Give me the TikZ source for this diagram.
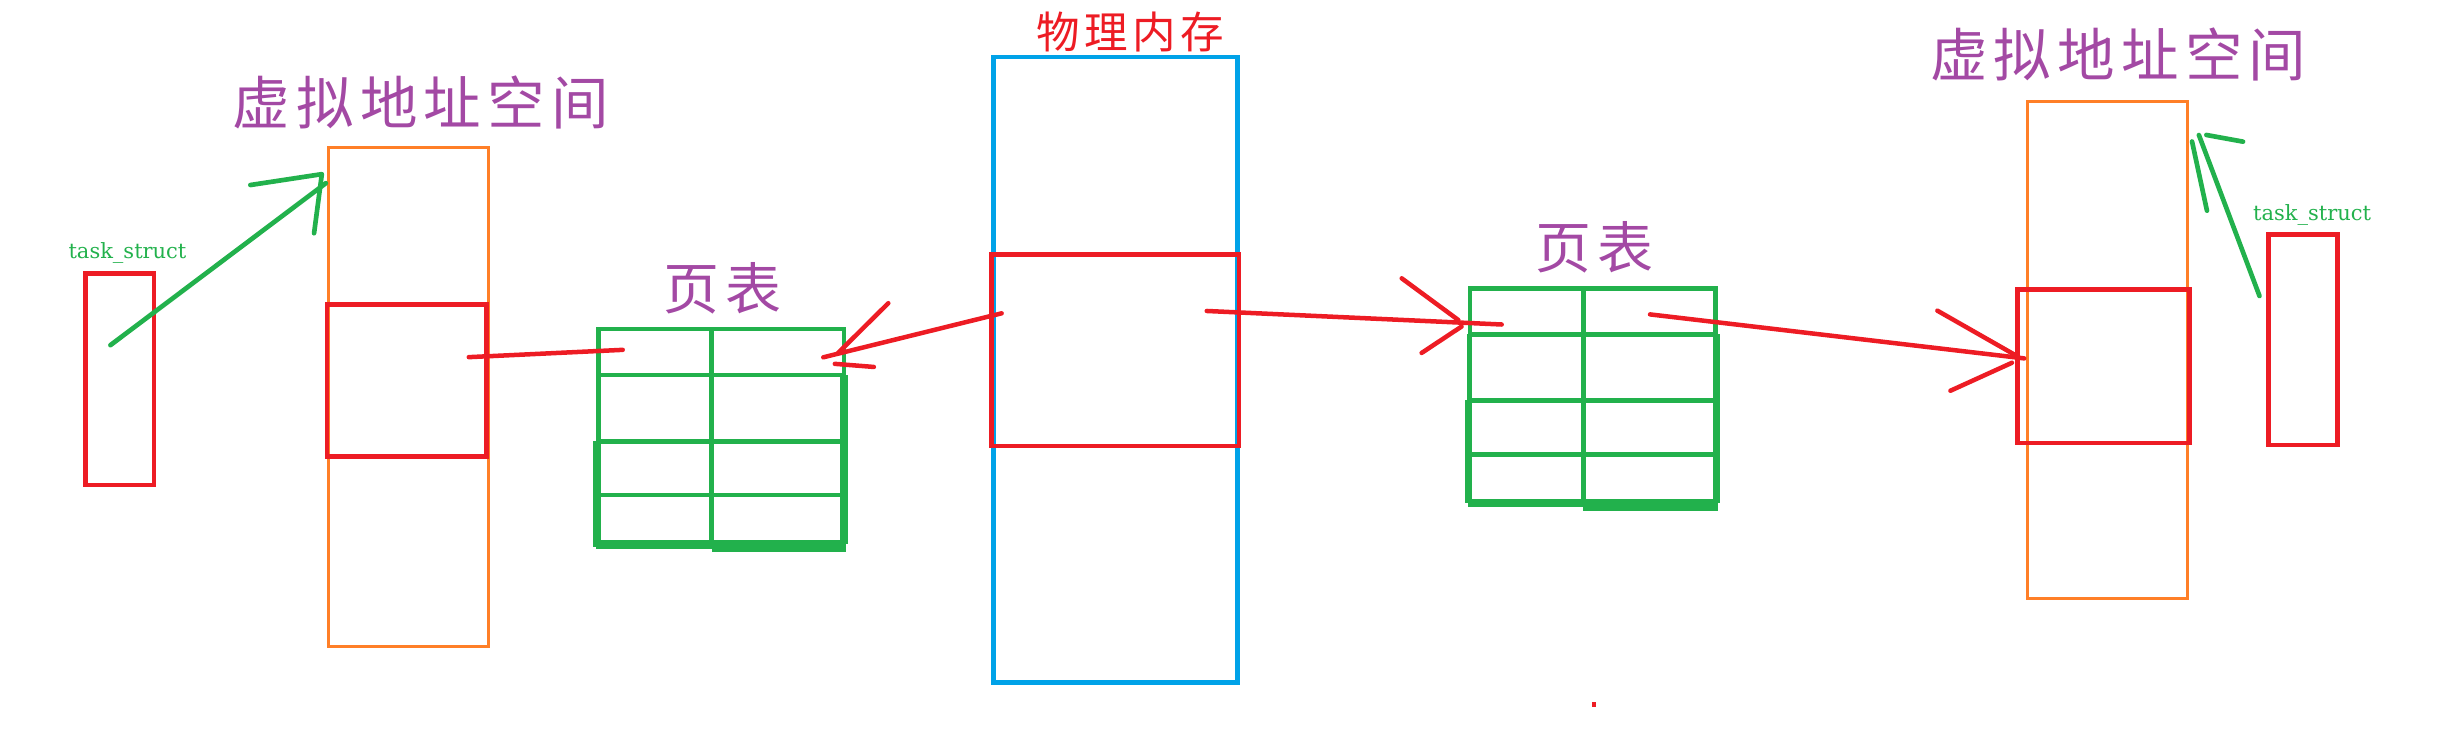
\documentclass[tikz,border=0pt]{standalone}
\usepackage{fontspec}
\newfontfamily\cjk{Noto Sans CJK SC}
\newfontfamily\tsfont{DejaVu Serif}
\usetikzlibrary{calc}
\definecolor{pred}{HTML}{ED1C24}
\definecolor{pgreen}{HTML}{22B14C}
\definecolor{porange}{HTML}{FF7F27}
\definecolor{pblue}{HTML}{00A2E8}
\definecolor{ppurple}{HTML}{A349A4}
\begin{document}
\begin{tikzpicture}[x=1pt,y=-1pt,
  box/.style={draw, inner sep=0pt, outer sep=0pt, anchor=north west},
  redbox/.style={box, draw=pred, line width=3pt},
  orangebox/.style={box, draw=porange, line width=2pt},
  bluebox/.style={box, draw=pblue, line width=2.7pt},
  tablebox/.style={box, draw=pgreen, line width=3pt, minimum width=158pt, minimum height=138pt},
  tableline/.style={draw=pgreen, line width=3pt},
  thickpart/.style={fill=pgreen},
  redarrow/.style={draw=pred, line width=2.9pt, line cap=round, line join=round},
  greenarrow/.style={draw=pgreen, line width=3pt, line cap=round, line join=round},
  title/.style={font=\cjk\fontsize{37}{40}\selectfont, text=ppurple, anchor=base, inner sep=0pt},
  pttitle/.style={font=\cjk\fontsize{36}{40}\selectfont, text=ppurple, anchor=base, inner sep=0pt},
  pmtitle/.style={font=\cjk\fontsize{28}{32}\selectfont, text=pred, anchor=base, inner sep=0pt},
  tslabel/.style={font=\tsfont\fontsize{13.5}{16}\selectfont, text=pgreen, anchor=base, inner sep=0pt}
]
\useasboundingbox (0,0) rectangle (1568,482);

% titles
\node[title] (t1) at (270.6,80) {虚\hspace{4pt}拟\hspace{4pt}地\hspace{4pt}址\hspace{4pt}空\hspace{4pt}间};
\node[title] (t2) at (1362.3,49) {虚\hspace{4pt}拟\hspace{4pt}地\hspace{4pt}址\hspace{4pt}空\hspace{4pt}间};
\node[pttitle] (pt1t) at (464.7,199) {页\hspace{4pt}表};
\node[pttitle] (pt2t) at (1025.3,172.5) {页\hspace{4pt}表};
\node[pmtitle] (pmt) at (727,31.3) {物\hspace{3pt}理\hspace{3pt}内\hspace{3pt}存};
\node[tslabel] (ts1l) at (82,166) {task\_struct};
\node[tslabel] (ts2l) at (1487,141.5) {task\_struct};

% left virtual address space
\node[orangebox, minimum width=103pt, minimum height=321pt] (vas1) at (211,95) {};
\node[redbox, minimum width=102.6pt, minimum height=97.7pt] (vr1) at (210.4,196) {};
\node[redbox, minimum width=44pt, minimum height=136pt] (ts1) at (55,176) {};

% physical memory
\node[bluebox, minimum width=157pt, minimum height=402pt] (pm) at (638.9,36.9) {};
\node[redbox, minimum width=159.2pt, minimum height=123.3pt] (pmr) at (637.7,163.5) {};

% right virtual address space
\node[orangebox, minimum width=103.3pt, minimum height=320pt] (vas2) at (1303.7,65) {};
\node[redbox, minimum width=110.7pt, minimum height=99pt] (vr2) at (1297.5,186) {};
\node[redbox, minimum width=44.4pt, minimum height=135.2pt] (ts2) at (1459,151) {};

% page table 1
\node[tablebox] (pt1) at (384.8,211.6) {};
\draw[tableline] ($(pt1.north west)+(73,0)$) -- ($(pt1.south west)+(73,0)$);
\foreach \r in {29.6,72.2,106.8}
  \draw[tableline] ($(pt1.north west)+(0,\r)$) -- ($(pt1.north east)+(0,\r)$);
\fill[thickpart] ($(pt1.north west)+(-1.5,135.5)$) rectangle ($(pt1.north west)+(73,141.5)$);
\fill[thickpart] ($(pt1.north west)+(73,135.5)$) rectangle ($(pt1.north west)+(159.5,143.5)$);
\fill[thickpart] ($(pt1.north west)+(-3.5,72)$) rectangle ($(pt1.north west)+(1.5,140)$);
\fill[thickpart] ($(pt1.north east)+(-2.5,29.6)$) rectangle ($(pt1.north east)+(2.5,138)$);

% page table 2
\node[tablebox] (pt2) at (945.4,185.4) {};
\draw[tableline] ($(pt2.north west)+(73,0)$) -- ($(pt2.south west)+(73,0)$);
\foreach \r in {29.6,72.2,106.8}
  \draw[tableline] ($(pt2.north west)+(0,\r)$) -- ($(pt2.north east)+(0,\r)$);
\fill[thickpart] ($(pt2.north west)+(-1.5,135.6)$) rectangle ($(pt2.north west)+(73,140.8)$);
\fill[thickpart] ($(pt2.north west)+(73,135.6)$) rectangle ($(pt2.north west)+(159.5,143)$);
\fill[thickpart] ($(pt2.north west)+(-3.5,72)$) rectangle ($(pt2.north west)+(1.5,138)$);
\fill[thickpart] ($(pt2.north west)+(-2,29.6)$) rectangle ($(pt2.north west)+(1.5,72)$);
\fill[thickpart] ($(pt2.north east)+(-1.5,29.6)$) rectangle ($(pt2.north east)+(3,138)$);

% connector end points
\coordinate (g1s) at ($(ts1.north west)+(16,46)$);
\coordinate (g1t) at ($(vas1.north west)+(-1.4,22.8)$);
\coordinate (r1s) at ($(vr1.north west)+(91.1,33.7)$);
\coordinate (r1t) at ($(pt1.north west)+(15.7,13.4)$);
\coordinate (r2s) at ($(pmr.north west)+(6.5,38)$);
\coordinate (r2t) at ($(pt1.north west)+(144.7,18.2)$);
\coordinate (r3s) at ($(pmr.north west)+(138.4,36.5)$);
\coordinate (r3t) at ($(pt2.north west)+(20.4,23.3)$);
\coordinate (r4s) at ($(pt2.north west)+(115.8,16.8)$);
\coordinate (r4t) at ($(vr2.north west)+(4.4,44.5)$);
\coordinate (g2s) at ($(ts2.north west)+(-5.8,39.4)$);
\coordinate (g2t) at ($(vas2.north west)+(110.5,21.8)$);

% green arrow left
\draw[greenarrow] (g1s) -- (g1t);
\draw[greenarrow] ($(g1t)+(-48.6,1.2)$) -- ($(g1t)+(-2.6,-5.8)$) -- ($(g1t)+(-7.6,32.2)$);

% red line vr1 -> pt1
\draw[redarrow] (r1s) -- (r1t);

% red arrow pm -> pt1
\draw[redarrow] (r2s) -- (r2t);
\draw[redarrow] ($(r2t)+(41.8,-34.8)$) -- ($(r2t)+(9.5,-2.8)$);
\draw[redarrow] ($(r2t)+(7.4,4.2)$) -- ($(r2t)+(32.5,6.2)$);

% red arrow pm -> pt2
\draw[redarrow] (r3s) -- (r3t);
\draw[redarrow] ($(r3t)+(-64.3,-29.7)$) -- ($(r3t)+(-27.9,-2.9)$);
\draw[redarrow] ($(r3t)+(-51.5,18.3)$) -- ($(r3t)+(-25.8,1.3)$);

% red arrow pt2 -> vr2
\draw[redarrow] (r4s) -- (r4t);
\draw[redarrow] ($(r4t)+(-55.9,-30.7)$) -- ($(r4t)+(-5.9,-2.2)$);
\draw[redarrow] ($(r4t)+(-47.5,20.8)$) -- ($(r4t)+(-7.9,2.8)$);

% green arrow right
\draw[greenarrow] (g2s) -- (g2t);
\draw[greenarrow] ($(g2t)+(4.8,0)$) -- ($(g2t)+(28.4,4.3)$);
\draw[greenarrow] ($(g2t)+(-4.4,4.2)$) -- ($(g2t)+(5.2,48.7)$);

% stray dot
\fill[pred] (1023.8,451.5) rectangle (1026.3,455);
\end{tikzpicture}
\end{document}
